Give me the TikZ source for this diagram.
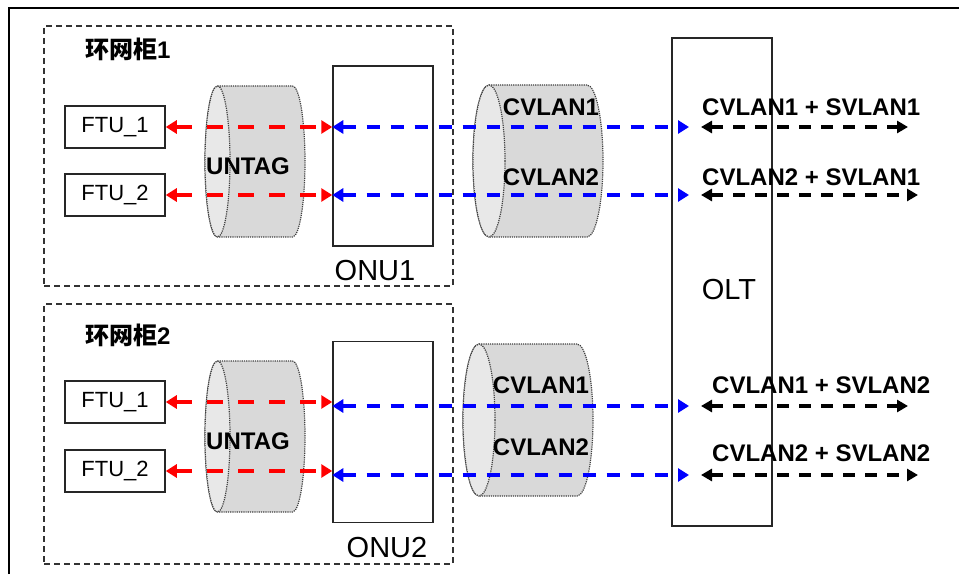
\documentclass[tikz,border=0pt]{standalone}
\usepackage{fontspec}
\setmainfont{Liberation Sans}
\newfontfamily\cjk{Noto Sans CJK SC}
\usetikzlibrary{arrows.meta, positioning, calc}

\begin{document}
\begin{tikzpicture}[
    x=1pt, y=1pt,
    box/.style={draw=black!85, line width=1.5pt, minimum width=100pt, inner sep=0pt},
    ftu/.style={box, minimum height=42pt, font=\fontsize{22}{24}\selectfont},
    cab/.style={draw=black!80, line width=1.3pt, dash pattern=on 6pt off 4pt, minimum width=409pt, minimum height=260pt},
    tag/.style={font=\bfseries\fontsize{24}{26}\selectfont, inner sep=0pt},
    big/.style={font=\fontsize{29}{31}\selectfont, inner sep=0pt},
    drumbody/.style={fill=black!15, draw=black!75, line width=1.2pt, densely dotted},
    drumface/.style={fill=black!9, draw=black!75, line width=1.2pt, densely dotted},
    redarr/.style={{Triangle[length=11pt, width=13pt]}-{Triangle[length=11pt, width=13pt]}, red, line width=3.4pt, dash pattern=on 16pt off 15pt},
    bluearr/.style={{Triangle[length=11pt, width=13pt]}-{Triangle[length=11pt, width=13pt]}, blue, line width=3.4pt, dash pattern=on 13pt off 11pt},
    blackarr/.style={{Triangle[length=11pt, width=12pt]}-{Triangle[length=11pt, width=12pt]}, black, line width=3.2pt, dash pattern=on 12pt off 10pt},
    pics/drum/.style n args={3}{code={
        \path[drumbody] (0,#2) -- (#1,#2) arc[start angle=90, end angle=-90, x radius=#3pt, y radius=#2pt]
            -- (0,-#2) arc[start angle=-90, end angle=-270, x radius=#3pt, y radius=#2pt] -- cycle;
        \path[drumface] (0,0) ellipse[x radius=#3pt, y radius=#2pt];
    }}
]
\useasboundingbox (0,0) rectangle (959,574);
% outer frame, only the top and left edges
\draw[line width=2.5pt] (9,0) -- (9,566) -- (959,566);

% the two ring main units
\node[cab] (cab1) at (248.5,418) {};
\node[cab] (cab2) at (248.5,140) {};
\node[tag, anchor=west] (cabname1) at (85,525) {{\cjk 环网柜}1};
\node[tag, anchor=west] (cabname2) at (85,239) {{\cjk 环网柜}2};

% untagged and C-VLAN tagged links
\pic at (217.5,412.5) {drum={75}{75.5}{12.5}};
\pic at (217.5,137.5) {drum={75}{75.5}{12.5}};
\pic at (489,413) {drum={98}{76}{16}};
\pic at (479,154) {drum={98}{76}{16}};

% terminals, ONUs and the OLT
\node[ftu] (ftuA1) at (115,447) {FTU\_1};
\node[ftu] (ftuA2) at (115,379) {FTU\_2};
\node[ftu] (ftuB1) at (115,172) {FTU\_1};
\node[ftu] (ftuB2) at (115,103) {FTU\_2};
\node[box, minimum height=180pt] (onu1) at (383,418) {};
\node[box, minimum height=181pt] (onu2) at (383,142) {};
\node[box, line width=2pt, minimum height=488pt] (olt) at (722,292) {};
\node[big] (onu1name) at (375,303) {ONU1};
\node[big] (onu2name) at (387,26) {ONU2};
\node[big] (oltname) at (729,284) {OLT};

% tag names
\node[tag] (untagA) at (248,408) {UNTAG};
\node[tag] (untagB) at (248,133) {UNTAG};
\node[tag] (cvA1) at (551,467) {CVLAN1};
\node[tag] (cvA2) at (551,397) {CVLAN2};
\node[tag] (cvB1) at (541,189) {CVLAN1};
\node[tag] (cvB2) at (541,127) {CVLAN2};
\node[tag, anchor=west] (svA1) at (702,467) {CVLAN1 + SVLAN1};
\node[tag, anchor=west] (svA2) at (702,397) {CVLAN2 + SVLAN1};
\node[tag, anchor=west] (svB1) at (712,189) {CVLAN1 + SVLAN2};
\node[tag, anchor=west] (svB2) at (712,121) {CVLAN2 + SVLAN2};

% free ends of the trunk lines
\coordinate (outA1) at (908,447);
\coordinate (outA2) at (918,379);
\coordinate (outB1) at (908,168);
\coordinate (outB2) at (918,99);

% FTU <-> ONU
\draw[redarr] (ftuA1) -- (ftuA1 -| onu1.west);
\draw[redarr] (ftuA2) -- (ftuA2 -| onu1.west);
\draw[redarr] (ftuB1) -- (ftuB1 -| onu2.west);
\draw[redarr] (ftuB2) -- (ftuB2 -| onu2.west);
% ONU <-> OLT
\draw[bluearr] (onu1.west |- outA1) -- ($(olt.west |- outA1)+(18,0)$);
\draw[bluearr] (onu1.west |- outA2) -- ($(olt.west |- outA2)+(18,0)$);
\draw[bluearr] (onu2.west |- outB1) -- ($(olt.west |- outB1)+(18,0)$);
\draw[bluearr] (onu2.west |- outB2) -- ($(olt.west |- outB2)+(18,0)$);
% OLT uplinks
\draw[blackarr] ($(olt.west |- outA1)+(30,0)$) -- (outA1);
\draw[blackarr] ($(olt.west |- outA2)+(30,0)$) -- (outA2);
\draw[blackarr] ($(olt.west |- outB1)+(30,0)$) -- (outB1);
\draw[blackarr] ($(olt.west |- outB2)+(30,0)$) -- (outB2);
\end{tikzpicture}
\end{document}
